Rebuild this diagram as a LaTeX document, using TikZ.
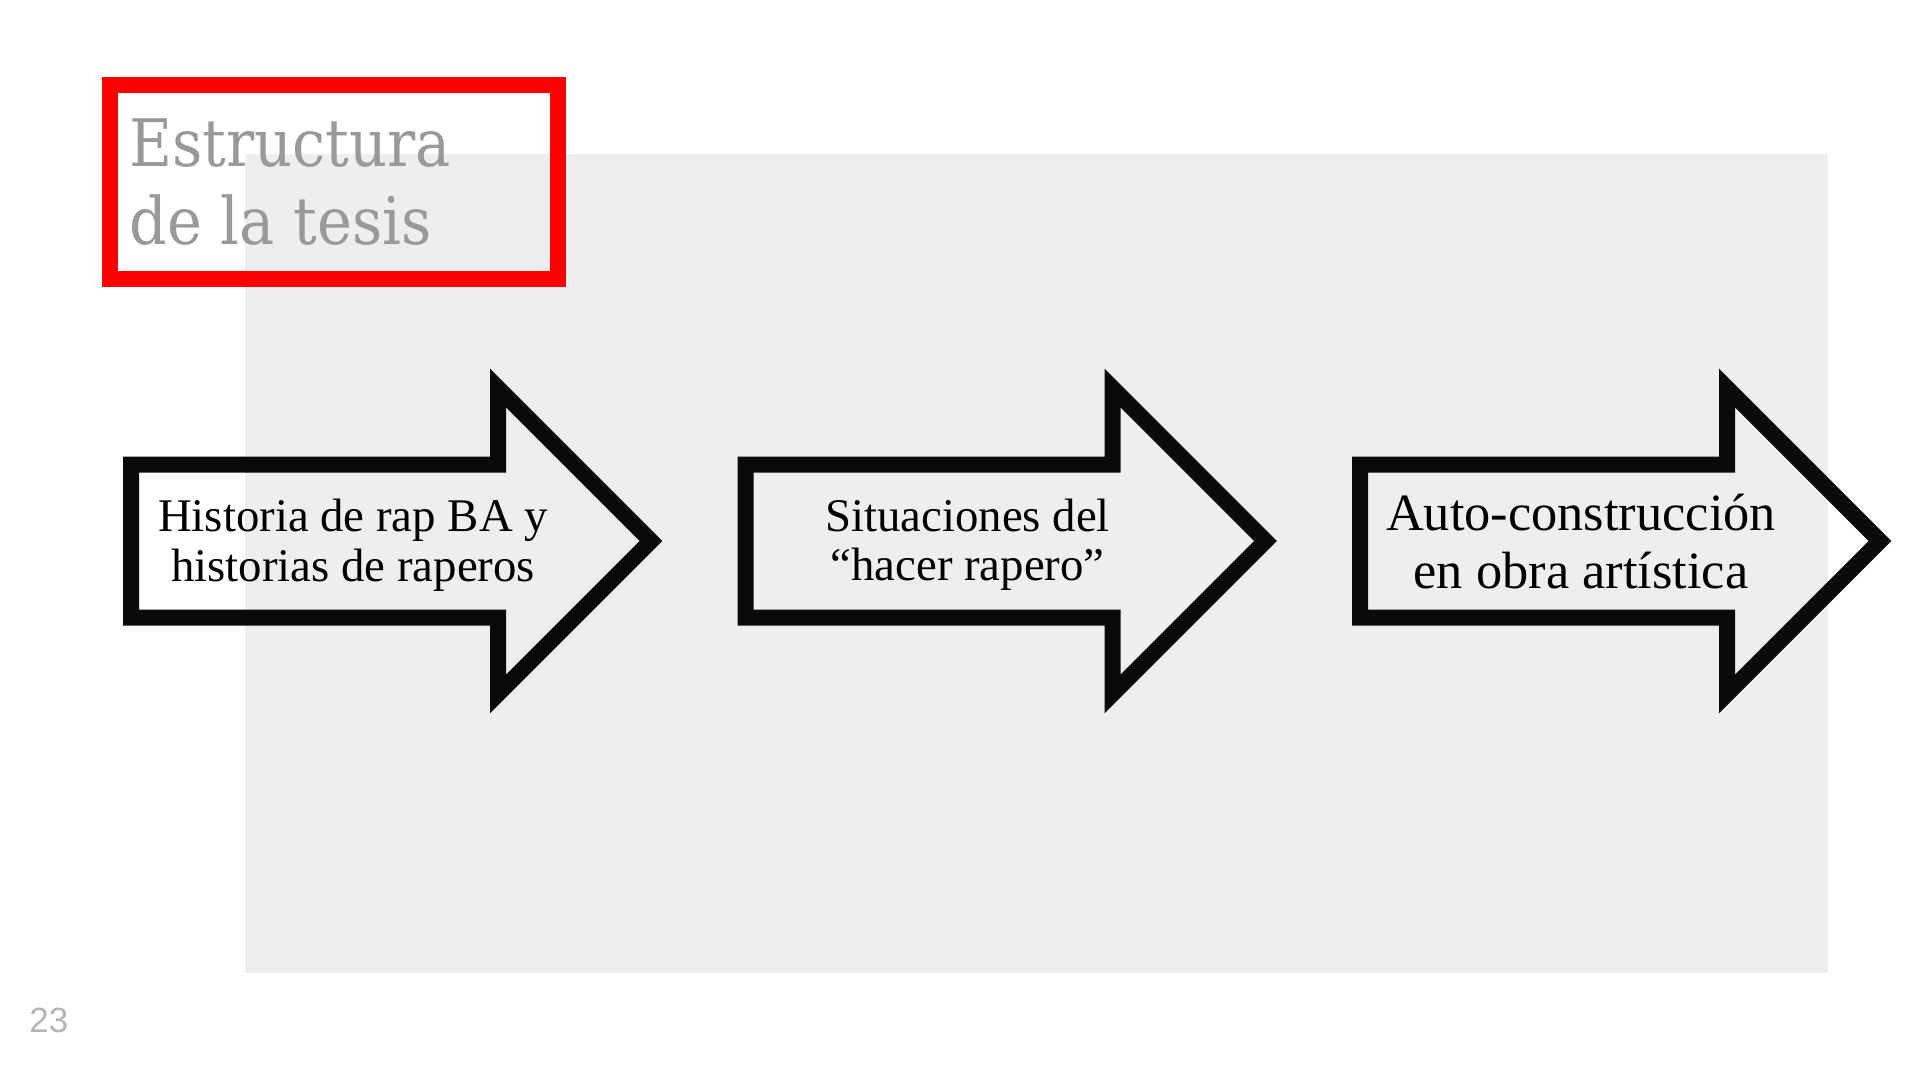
\documentclass[tikz,border=0pt]{standalone}
\usepackage{fontspec}
\setmainfont{Liberation Serif}
\newfontfamily\titlefont{DejaVu Serif Condensed}
\newfontfamily\numfont{Liberation Sans}
\definecolor{panelgray}{HTML}{EEEEEE}
\definecolor{titlegray}{HTML}{999999}
\definecolor{pagegray}{HTML}{B4B4B4}

% outline of one big block arrow, #1 = left x (px)
\newcommand{\blockarrow}[1]{%
  \draw[outline] (#1,464.5) -- ++(367,0) -- ++(0,-76.5) -- ++(153,153)
    -- ++(-153,153) -- ++(0,-76.5) -- ++(-367,0) -- cycle;}

\begin{document}
\begin{tikzpicture}[
  x=0.5pt, y=-0.5pt,
  outline/.style={draw=black!96, line width=8pt, line join=miter},
  txt/.style={anchor=base, inner sep=0pt, font=\fontsize{23.4}{25}\selectfont},
  bigtxt/.style={anchor=base, inner sep=0pt, font=\fontsize{26.2}{29}\selectfont},
  titletxt/.style={anchor=base west, inner sep=0pt, text=titlegray,
                   font=\titlefont\fontsize{32.8}{39}\selectfont}
]
\useasboundingbox (0,0) rectangle (1920,1080);
\fill[panelgray] (245,154) rectangle (1828,973);

% title box
\draw[red, line width=8pt] (110,85) rectangle (558,279);
\node[titletxt] (title1) at (129,167) {Estructura};
\node[titletxt] (title2) at (129,245) {de la tesis};

% the three steps
\blockarrow{131}
\node[txt] (hist1) at (353,531.5) {Historia de rap BA y};
\node[txt] (hist2) at (353,581.5) {historias de raperos};

\blockarrow{745.5}
\node[txt] (sit1) at (967.5,531) {Situaciones del};
\node[txt] (sit2) at (967.5,580) {“hacer rapero”};

\blockarrow{1360}
\node[bigtxt] (auto1) at (1581,530) {Auto-construcción};
\node[bigtxt] (auto2) at (1581,588) {en obra artística};

% slide number
\node[anchor=base west, inner sep=0pt, text=pagegray,
      font=\numfont\fontsize{17.5}{20}\selectfont] (pagenum) at (29,1032) {23};
\end{tikzpicture}
\end{document}
